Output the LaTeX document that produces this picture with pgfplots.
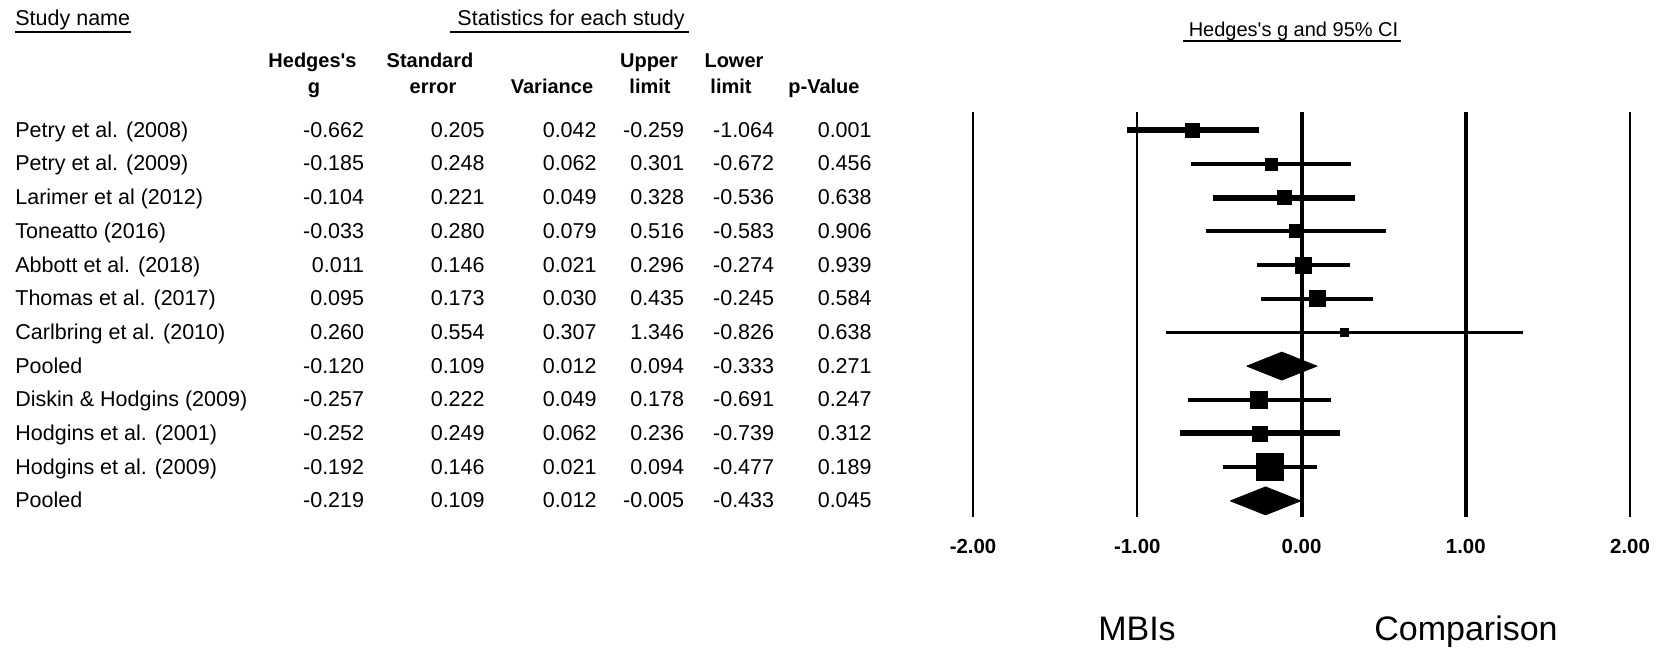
\documentclass[border=0pt]{standalone}
\usepackage{fontspec}
\setmainfont{Liberation Sans}
\usepackage{pgfplots}
\usepackage{pgfplotstable}
\pgfplotsset{compat=1.18}

\newcommand\bodyfont{\fontsize{10.75}{13}\selectfont}
\newcommand\headfont{\fontsize{10}{12}\selectfont\bfseries}

% Study-level statistics; lw = CI line width (pt), sq = box side (px); sq = 0 marks a pooled row
\pgfplotstableread[col sep=comma]{
name,g,se,var,up,low,p,lw,sq
Petry et al. (2008),-0.662,0.205,0.042,-0.259,-1.064,0.001,3,14
Petry et al. (2009),-0.185,0.248,0.062,0.301,-0.672,0.456,1.85,12
Larimer et al (2012),-0.104,0.221,0.049,0.328,-0.536,0.638,3,14.5
Toneatto (2016),-0.033,0.280,0.079,0.516,-0.583,0.906,1.85,13
Abbott et al. (2018),0.011,0.146,0.021,0.296,-0.274,0.939,1.85,16
Thomas et al. (2017),0.095,0.173,0.030,0.435,-0.245,0.584,1.85,16
Carlbring et al. (2010),0.260,0.554,0.307,1.346,-0.826,0.638,1.85,8
Pooled,-0.120,0.109,0.012,0.094,-0.333,0.271,0,0
Diskin \& Hodgins (2009),-0.257,0.222,0.049,0.178,-0.691,0.247,1.85,17
Hodgins et al. (2001),-0.252,0.249,0.062,0.236,-0.739,0.312,3,15
Hodgins et al. (2009),-0.192,0.146,0.021,0.094,-0.477,0.189,1.85,27
Pooled,-0.219,0.109,0.012,-0.005,-0.433,0.045,0,0
}\forest

\begin{document}
\begin{tikzpicture}
\begin{scope}[x=0.5pt,y=-0.5pt]
\useasboundingbox (0,0) rectangle (1665,647);
\end{scope}

\begin{axis}[
  at={(486.5pt,-56pt)}, anchor=north west,
  scale only axis, width=328.5pt, height=202.5pt,
  xmin=-2, xmax=2, ymin=-12.478, ymax=-0.460,
  clip=false,
  axis line style={draw=none},
  tick style={draw=none}, major tick length=0pt,
  ytick=\empty,
  xtick={-2,-1,0,1,2},
  xticklabels={-2.00,-1.00,0.00,1.00,2.00},
  xticklabel style={font=\fontsize{10.2}{12}\selectfont\bfseries, anchor=center, yshift=-14.5pt},
]
% reference lines
\addplot[black, line width=1pt, forget plot] coordinates {(-2,-0.460) (-2,-12.478)};
\addplot[black, line width=1.1pt, forget plot] coordinates {(-1,-0.460) (-1,-12.478)};
\addplot[black, line width=2pt, forget plot] coordinates {(0,-0.460) (0,-12.478)};
\addplot[black, line width=2pt, forget plot] coordinates {(1,-0.460) (1,-12.478)};
\addplot[black, line width=1.1pt, forget plot] coordinates {(2,-0.460) (2,-12.478)};

% intervals, boxes and pooled diamonds
\pgfplotsforeachungrouped \r in {0,...,11}{%
  \pgfplotstablegetelem{\r}{g}\of\forest \let\gv\pgfplotsretval
  \pgfplotstablegetelem{\r}{low}\of\forest \let\lowv\pgfplotsretval
  \pgfplotstablegetelem{\r}{up}\of\forest \let\upv\pgfplotsretval
  \pgfplotstablegetelem{\r}{lw}\of\forest \let\lwv\pgfplotsretval
  \pgfplotstablegetelem{\r}{sq}\of\forest \let\sqv\pgfplotsretval
  \pgfmathsetmacro\yy{-(\r+1)}%
  \pgfmathsetmacro\ms{\sqv*0.25}%
  \pgfmathsetmacro\yt{\yy+0.415}%
  \pgfmathsetmacro\yb{\yy-0.415}%
  \ifdim\sqv pt>0pt
    \edef\cmd{\noexpand\addplot[black, line width=\lwv pt, forget plot] coordinates {(\lowv,\yy) (\upv,\yy)};
      \noexpand\addplot[only marks, mark=square*, mark size=\ms pt, mark options={fill=black, draw=none}, forget plot] coordinates {(\gv,\yy)};}%
  \else
    \edef\cmd{\noexpand\addplot[fill=black, draw=black, line width=0.4pt, forget plot] coordinates {(\lowv,\yy) (\gv,\yt) (\upv,\yy) (\gv,\yb) (\lowv,\yy)};}%
  \fi
  \cmd
}
\end{axis}

\begin{scope}[x=0.5pt,y=-0.5pt, font=\bodyfont]
% titles
\node[anchor=base west, inner sep=0pt] at (15,25.7) {Study name};
\draw[line width=1pt] (15,32) -- (131,32);
\node[anchor=base, inner sep=0pt] at (571,25.7) {Statistics for each study};
\draw[line width=1pt] (450,32) -- (689,32);
\node[anchor=base, inner sep=0pt, font=\fontsize{10}{12}\selectfont] at (1293.5,36.7) {Hedges\textquotesingle s g and 95\% CI};
\draw[line width=1pt] (1183,41) -- (1401,41);

% column headings
\begin{scope}[every node/.style={anchor=base, inner sep=0pt, font=\headfont}]
\node at (312.5,67) {Hedges\textquotesingle s};
\node at (314,93.5) {g};
\node at (430,67) {Standard};
\node at (433,93.5) {error};
\node at (552,93.5) {Variance};
\node at (649,67) {Upper};
\node at (650,93.5) {limit};
\node at (734,67) {Lower};
\node at (731,93.5) {limit};
\node at (824,93.5) {p-Value};
\end{scope}

% table body
\foreach \r in {0,...,11}{
  \pgfmathsetmacro\yy{130.2+\r*33.7+7}
  \pgfplotstablegetelem{\r}{name}\of\forest
  \node[anchor=base west, inner sep=0pt] at (15,\yy) {\pgfplotsretval};
  \pgfplotstablegetelem{\r}{g}\of\forest
  \node[anchor=base east, inner sep=0pt] at (364.5,\yy) {\pgfplotsretval};
  \pgfplotstablegetelem{\r}{se}\of\forest
  \node[anchor=base east, inner sep=0pt] at (485,\yy) {\pgfplotsretval};
  \pgfplotstablegetelem{\r}{var}\of\forest
  \node[anchor=base east, inner sep=0pt] at (597,\yy) {\pgfplotsretval};
  \pgfplotstablegetelem{\r}{up}\of\forest
  \node[anchor=base east, inner sep=0pt] at (684.5,\yy) {\pgfplotsretval};
  \pgfplotstablegetelem{\r}{low}\of\forest
  \node[anchor=base east, inner sep=0pt] at (774.5,\yy) {\pgfplotsretval};
  \pgfplotstablegetelem{\r}{p}\of\forest
  \node[anchor=base east, inner sep=0pt] at (872,\yy) {\pgfplotsretval};
}

% favours labels
\node[anchor=base, inner sep=0pt, font=\fontsize{17}{20}\selectfont] at (1137,640) {MBIs};
\node[anchor=base, inner sep=0pt, font=\fontsize{17}{20}\selectfont] at (1466,640) {Comparison};
\end{scope}
\end{tikzpicture}
\end{document}
